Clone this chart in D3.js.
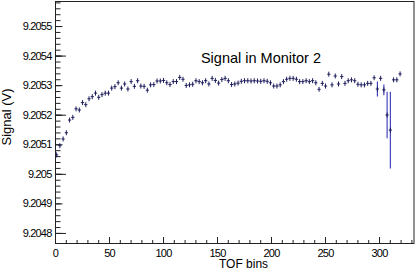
<!DOCTYPE html>
<html>
  <head>
    <meta charset="utf-8" />
    <title>Signal in Monitor 2</title>
    <script src="https://d3js.org/d3.v7.min.js"></script>
    <style>
      body { margin: 0; background: #fff; }
      text { font-family: "Liberation Sans", Arial, Helvetica, sans-serif; fill: #000; }
    </style>
  </head>
  <body>
    <svg width="415" height="271"></svg>

    <script>
      // TOF bin centres (3 bins wide each)
      const tofBins = [
        1.5, 4.5, 7.5, 10.5, 13.5, 16.5, 19.5, 22.5, 25.5, 28.5,
        31.5, 34.5, 37.5, 40.5, 43.5, 46.5, 49.5, 52.5, 55.5, 58.5,
        61.5, 64.5, 67.5, 70.5, 73.5, 76.5, 79.5, 82.5, 85.5, 88.5,
        91.5, 94.5, 97.5, 100.5, 103.5, 106.5, 109.5, 112.5, 115.5, 118.5,
        121.5, 124.5, 127.5, 130.5, 133.5, 136.5, 139.5, 142.5, 145.5, 148.5,
        151.5, 154.5, 157.5, 160.5, 163.5, 166.5, 169.5, 172.5, 175.5, 178.5,
        181.5, 184.5, 187.5, 190.5, 193.5, 196.5, 199.5, 202.5, 205.5, 208.5,
        211.5, 214.5, 217.5, 220.5, 223.5, 226.5, 229.5, 232.5, 235.5, 238.5,
        241.5, 244.5, 247.5, 250.5, 253.5, 256.5, 259.5, 262.5, 265.5, 268.5,
        271.5, 274.5, 277.5, 280.5, 283.5, 286.5, 289.5, 292.5, 295.5, 298.5,
        301.5, 304.5, 307.5, 310.5, 313.5, 316.5, 319.5
      ];

      // signal (V) per bin
      const signal = [
        9.205064, 9.205095, 9.205118, 9.205139, 9.205182, 9.205191, 9.205220, 9.205216, 9.205241, 9.205234,
        9.205254, 9.205261, 9.205273, 9.205259, 9.205268, 9.205273, 9.205273, 9.205290, 9.205295, 9.205308,
        9.205290, 9.205304, 9.205287, 9.205312, 9.205296, 9.205315, 9.205297, 9.205296, 9.205283, 9.205301,
        9.205302, 9.205314, 9.205314, 9.205316, 9.205308, 9.205302, 9.205312, 9.205312, 9.205326, 9.205320,
        9.205299, 9.205301, 9.205303, 9.205315, 9.205312, 9.205308, 9.205315, 9.205304, 9.205323, 9.205316,
        9.205307, 9.205319, 9.205323, 9.205315, 9.205302, 9.205304, 9.205307, 9.205313, 9.205315, 9.205315,
        9.205314, 9.205315, 9.205314, 9.205313, 9.205315, 9.205313, 9.205308, 9.205297, 9.205297, 9.205301,
        9.205312, 9.205320, 9.205323, 9.205323, 9.205320, 9.205312, 9.205312, 9.205315, 9.205312, 9.205315,
        9.205308, 9.205286, 9.205306, 9.205297, 9.205337, 9.205301, 9.205331, 9.205304, 9.205329, 9.205306,
        9.205315, 9.205318, 9.205315, 9.205303, 9.205301, 9.205301, 9.205306, 9.205306, 9.205325, 9.205287,
        9.205323, 9.205284, 9.205199, 9.205148, 9.205318, 9.205318, 9.205338
      ];

      // error on the signal
      const signalErr = [
        0.0000006, 0.0000006, 0.0000006, 0.0000006, 0.0000006, 0.0000006, 0.0000006, 0.0000006, 0.0000006, 0.0000006,
        0.0000006, 0.0000006, 0.0000006, 0.0000006, 0.0000006, 0.0000006, 0.0000006, 0.0000006, 0.0000006, 0.0000006,
        0.0000006, 0.0000006, 0.0000006, 0.0000006, 0.0000006, 0.0000006, 0.0000006, 0.0000006, 0.0000006, 0.0000006,
        0.0000006, 0.0000006, 0.0000006, 0.0000006, 0.0000006, 0.0000006, 0.0000006, 0.0000006, 0.0000006, 0.0000006,
        0.0000006, 0.0000006, 0.0000006, 0.0000006, 0.0000006, 0.0000006, 0.0000006, 0.0000006, 0.0000006, 0.0000006,
        0.0000006, 0.0000006, 0.0000006, 0.0000006, 0.0000006, 0.0000006, 0.0000006, 0.0000006, 0.0000006, 0.0000006,
        0.0000006, 0.0000006, 0.0000006, 0.0000006, 0.0000006, 0.0000006, 0.0000006, 0.0000006, 0.0000006, 0.0000006,
        0.0000006, 0.0000006, 0.0000006, 0.0000006, 0.0000006, 0.0000006, 0.0000006, 0.0000006, 0.0000006, 0.0000006,
        0.0000006, 0.0000006, 0.0000006, 0.0000006, 0.0000006, 0.0000006, 0.0000006, 0.0000006, 0.0000006, 0.0000006,
        0.0000006, 0.0000006, 0.0000006, 0.0000006, 0.0000006, 0.0000006, 0.0000006, 0.0000006, 0.0000007, 0.0000254,
        0.0000007, 0.0000180, 0.0000790, 0.0001300, 0.0000008, 0.0000008, 0.0000008
      ];

      const binWidth = 3;
      const xTickLabels = [0, 50, 100, 150, 200, 250, 300];
      const yTickLabels = [9.2048, 9.2049, 9.205, 9.2051, 9.2052, 9.2053, 9.2054, 9.2055];

      const svg = d3.select("svg");
      const fontSize = 11;

      const x = d3.scaleLinear().domain([0, 332.4]).range([55, 414]);
      const y = d3.scaleLinear().domain([9.204766, 9.205583]).range([243, 1.5]);

      const points = tofBins.map((b, i) => ({ b: b, v: signal[i], e: signalErr[i] }));

      // frame
      svg
        .append("rect")
        .attr("x", 55.5)
        .attr("y", 1.5)
        .attr("width", 358.5)
        .attr("height", 242)
        .attr("fill", "none")
        .attr("stroke", "#222")
        .attr("stroke-width", 1);

      // x axis: minor ticks every 10, major every 50
      const xMinor = d3.range(0, 333, 10);
      svg
        .append("g")
        .attr("transform", "translate(0,243.5)")
        .call(d3.axisBottom(x).tickValues(xMinor).tickSize(-3.5).tickFormat(""))
        .call((g) => g.select(".domain").remove());
      const xAx = svg
        .append("g")
        .attr("transform", "translate(0,243.5)")
        .call(d3.axisBottom(x).tickValues(xTickLabels).tickSize(-6.5).tickPadding(6).tickFormat(d3.format("d")))
        .call((g) => g.select(".domain").remove());
      xAx.selectAll("text")
        .attr("font-size", fontSize)
        .attr("letter-spacing", "-0.8px")
        .attr("font-family", "Liberation Sans, Arial, sans-serif");

      // y axis: minor every 0.00002, labelled every 0.0001, long every 0.0002
      const yMinor = d3.range(0, 41).map((k) => 9.2048 + k * 0.00002);
      const yLong = yTickLabels.filter((d, i) => i % 2 === 0);
      svg
        .append("g")
        .attr("transform", "translate(55.5,0)")
        .call(d3.axisLeft(y).tickValues(yMinor.filter((d) => d <= 9.205583)).tickSize(-5).tickFormat(""))
        .call((g) => g.select(".domain").remove());
      svg
        .append("g")
        .attr("transform", "translate(55.5,0)")
        .call(d3.axisLeft(y).tickValues(yLong).tickSize(-10.5).tickFormat(""))
        .call((g) => g.select(".domain").remove());
      const yAx = svg
        .append("g")
        .attr("transform", "translate(55.5,0)")
        .call(
          d3
            .axisLeft(y)
            .tickValues(yTickLabels)
            .tickSize(-7)
            .tickPadding(4)
            .tickFormat((d) => String(+d.toFixed(4)))
        )
        .call((g) => g.select(".domain").remove());
      yAx.selectAll("text")
        .attr("font-size", fontSize)
        .attr("letter-spacing", "-0.8px")
        .attr("font-family", "Liberation Sans, Arial, sans-serif");

      svg.selectAll(".tick line").attr("stroke", "#222");

      // axis titles
      svg
        .append("text")
        .attr("x", 243.5)
        .attr("y", 268)
        .attr("text-anchor", "middle")
        .attr("font-size", 12)
        .text("TOF bins");
      svg
        .append("text")
        .attr("transform", "translate(11,117) rotate(-90)")
        .attr("text-anchor", "middle")
        .attr("font-size", 13)
        .text("Signal (V)");

      // title inside the pad
      svg
        .append("text")
        .attr("x", 261)
        .attr("y", 63.3)
        .attr("text-anchor", "middle")
        .attr("font-size", 14.5)
        .text("Signal in Monitor 2");

      // error bars
      const pts = svg.append("g");
      pts
        .selectAll(".err")
        .data(points)
        .enter()
        .append("line")
        .attr("class", "err")
        .attr("x1", (d) => x(d.b))
        .attr("x2", (d) => x(d.b))
        .attr("y1", (d) => y(d.v - d.e))
        .attr("y2", (d) => y(d.v + d.e))
        .attr("stroke", "#3434b8")
        .attr("stroke-width", 1.1);

      // "+" markers: horizontal arm spans the bin width
      pts
        .selectAll(".mk")
        .data(points)
        .enter()
        .append("path")
        .attr("class", "mk")
        .attr("d", (d) => {
          const cx = x(d.b);
          const cy = y(d.v);
          const x0 = x(d.b - binWidth / 2);
          const x1 = x(d.b + binWidth / 2);
          return `M${x0},${cy}H${x1}M${cx},${cy - 2.5}V${cy + 2.5}`;
        })
        .attr("fill", "none")
        .attr("stroke", "#1e1e5c")
        .attr("stroke-width", 1);
    </script>
  </body>
</html>
